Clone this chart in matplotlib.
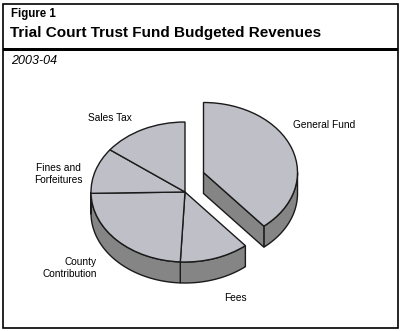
import numpy as np
import matplotlib
matplotlib.use("Agg")
import matplotlib.pyplot as plt
from matplotlib.patches import Polygon, Rectangle

plt.rcParams['font.family'] = ['Liberation Sans', 'DejaVu Sans']

# revenue shares, percent of total
sources = ["General Fund", "Fees", "County Contribution",
           "Fines and Forfeitures", "Sales Tax"]
shares = [38.9, 11.9, 23.9, 10.6, 14.7]
label_text = ["General Fund", "Fees", "County\nContribution",
              "Fines and\nForfeitures", "Sales Tax"]

W, H = 402, 331
top_col = "#bfbfc7"
side_col = "#858585"
edge_col = "#1a1a1a"

fig = plt.figure(figsize=(W / 100, H / 100), dpi=100)

# frame, header text and rules in pixel coordinates
frame = fig.add_axes([0, 0, 1, 1])
frame.set_xlim(0, W)
frame.set_ylim(H, 0)
frame.axis("off")
frame.add_patch(Rectangle((3.5, 3.5), 395, 324.5, fill=False, lw=1.2, ec="black"))
frame.add_patch(Rectangle((3.5, 47.5), 395, 3, color="black", lw=0))
frame.text(11, 14, "Figure 1", fontsize=8.3, fontweight="bold", va="center")
frame.text(10, 33.5, "Trial Court Trust Fund Budgeted Revenues", fontsize=11,
           fontweight="bold", va="center")
frame.text(11, 61, "2003-04", fontsize=9, style="italic", va="center")

# pie axes: one x unit = 94 px, one y unit = 70 px, pie centre at (185, 192)
cx, cy, rx, ry = 185, 192, 94, 70
ax = fig.add_axes([0, 0, 1, 1])
wedges, _ = ax.pie(shares, startangle=90, counterclock=False,
                   wedgeprops=dict(fc=top_col, ec=edge_col, lw=1.0))
ax.set_aspect("auto")
ax.set_xlim(-cx / rx, (W - cx) / rx)
ax.set_ylim(-(H - cy) / ry, cy / ry)
ax.axis("off")

depth = 21 / ry
pull = np.array([18.5 / rx, 19.5 / ry])  # General Fund slice pulled out


def side_faces(w, off, z):
    x0, y0 = off
    lo, hi = max(w.theta1, -180), min(w.theta2, 0)
    if lo < hi:
        t = np.radians(np.linspace(lo, hi, 120))
        xs, ys = x0 + np.cos(t), y0 + np.sin(t)
        pts = np.column_stack([np.r_[xs, xs[::-1]], np.r_[ys, ys[::-1] - depth]])
        ax.add_patch(Polygon(pts, closed=True, fc=side_col, ec=edge_col,
                             lw=1.0, zorder=z))


for i, w in enumerate(wedges):
    if i == 0:
        w.set_center(tuple(pull))
        w.set_zorder(2)
        side_faces(w, pull, 1.5)
        # cut face along the clockwise edge of the pulled slice
        a = np.radians(w.theta1)
        ex, ey = pull[0] + np.cos(a), pull[1] + np.sin(a)
        face = [(pull[0], pull[1]), (ex, ey), (ex, ey - depth),
                (pull[0], pull[1] - depth)]
        ax.add_patch(Polygon(face, closed=True, fc=side_col, ec=edge_col,
                             lw=1.0, zorder=1.6))
    else:
        w.set_zorder(4)
        side_faces(w, (0, 0), 3)

# slice labels
lab_pos = [(324, 125, "center"), (235, 298, "center"), (97, 268, "right"),
           (58, 174, "center"), (110, 118, "center")]
for txt, (x, y, ha) in zip(label_text, lab_pos):
    frame.text(x, y, txt, fontsize=7.3, ha=ha, va="center", multialignment=ha,
               linespacing=1.15)

fig.savefig("out.png", dpi=100)
